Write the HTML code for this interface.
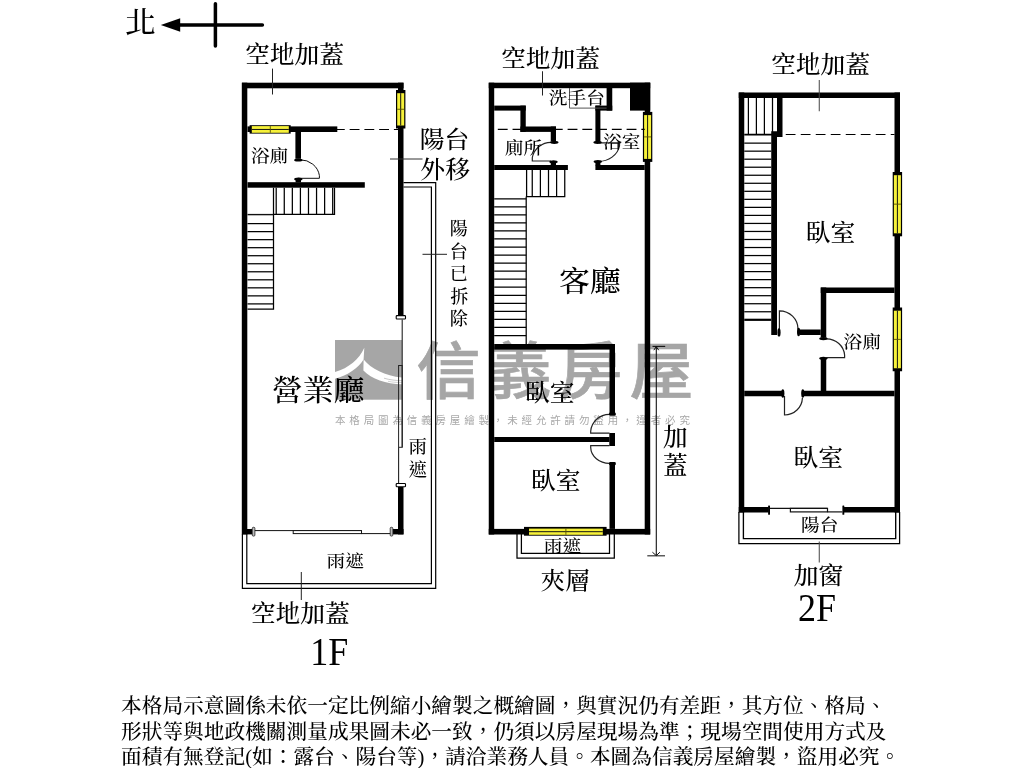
<!DOCTYPE html>
<html lang="zh-Hant"><head><meta charset="utf-8"><title>格局圖</title>
<style>
html,body{margin:0;padding:0;background:#fff;}
body{width:1024px;height:768px;overflow:hidden;font-family:'Liberation Serif','Noto Serif CJK TC','Noto Serif CJK SC',serif;}
svg{display:block;will-change:transform;}
text{white-space:pre;}
</style></head><body>
<svg width="1024" height="768" viewBox="0 0 1024 768" shape-rendering="auto">
<rect width="1024" height="768" fill="#fff"/>
<rect x="335.00" y="340.00" width="67.00" height="59.70" fill="#a6a6a6" />
<path d="M364.3,347.8 L363.6,359.5 C358,368 348,375.5 335,378.8 L335,372 C349,368 359,359.5 364.3,347.8 Z" stroke="none" stroke-width="0" fill="#fff" />
<path d="M363.6,359.5 C371,368.5 385,376 402,377.5 L402,384.3 C386,384 371.5,379 363.4,370.5 Z" stroke="none" stroke-width="0" fill="#fff" />
<path d="M384,378.2 C390,380 396,380.6 402,380.7" stroke="#a6a6a6" stroke-width="0.6" fill="none" />
<path d="M388,381.3 C393,382.3 397,382.5 402,382.6" stroke="#a6a6a6" stroke-width="0.5" fill="none" />
<g transform="translate(0,399.6) scale(1,0.975) translate(0,-400)"><text x="416.45" y="393.85" font-size="64.00" font-weight="500" fill="#a6a6a6" letter-spacing="7.0" stroke="#a6a6a6" stroke-width="0.7" style="font-family:'Liberation Sans','Noto Sans CJK TC','Noto Sans CJK SC',sans-serif">信義房屋</text></g>
<text x="335.00" y="423.75" font-size="10.50" font-weight="400" fill="#a8a8a8" letter-spacing="3.8500000000000005" style="font-family:'Liberation Sans','Noto Sans CJK TC','Noto Sans CJK SC',sans-serif">本格局圖為信義房屋繪製，未經允許請勿盜用，違者必究</text>
<line x1="176.00" y1="24.90" x2="262.40" y2="24.90" stroke="#000" stroke-width="3.5" stroke-linecap="round"/>
<line x1="215.40" y1="3.70" x2="215.40" y2="46.00" stroke="#000" stroke-width="3.5" stroke-linecap="round"/>
<polygon points="160.8,24.9 180.2,18.2 180.2,31.7" fill="#000"/>
<path d="M403.5,182.6 H435.7 V588.4 H242.4 V534" stroke="#000" stroke-width="1.2" fill="none" />
<path d="M403.5,187 H431.4 V583.6 H246.8 V534" stroke="#000" stroke-width="1.2" fill="none" />
<rect x="241.80" y="82.70" width="5.50" height="451.70" fill="#000" />
<rect x="242.00" y="82.70" width="161.50" height="5.60" fill="#000" />
<rect x="398.00" y="82.70" width="5.50" height="232.80" fill="#000" />
<rect x="398.00" y="487.00" width="5.50" height="47.40" fill="#000" />
<rect x="242.00" y="529.00" width="10.30" height="5.40" fill="#000" />
<rect x="392.80" y="529.00" width="10.70" height="5.40" fill="#000" />
<rect x="247.50" y="126.40" width="89.80" height="5.60" fill="#000" />
<rect x="295.40" y="132.00" width="5.60" height="26.80" fill="#000" />
<rect x="247.50" y="182.20" width="117.30" height="5.50" fill="#000" />
<rect x="295.60" y="180.00" width="5.40" height="2.50" fill="#000" />
<rect x="396.2" y="315.6" width="9.3" height="3.4" rx="0.8" fill="#fff" stroke="#000" stroke-width="1.1"/>
<rect x="396.2" y="483.5" width="9.3" height="3.2" rx="0.8" fill="#fff" stroke="#000" stroke-width="1.1"/>
<rect x="252.3" y="527.3" width="2.6" height="8.8" rx="1" fill="#bbb" stroke="#222" stroke-width="0.8"/>
<rect x="390.2" y="527.3" width="2.6" height="8.8" rx="1" fill="#bbb" stroke="#222" stroke-width="0.8"/>
<line x1="254.90" y1="530.60" x2="361.50" y2="530.60" stroke="#111" stroke-width="1" />
<rect x="293.2" y="530.6" width="68.3" height="3" fill="#fff" stroke="#111" stroke-width="1"/>
<line x1="361.50" y1="533.60" x2="390.20" y2="533.60" stroke="#111" stroke-width="1" />
<line x1="402.20" y1="319.40" x2="402.20" y2="447.30" stroke="#222" stroke-width="1.1" />
<rect x="398.6" y="365.5" width="3.6" height="81.8" fill="none" stroke="#222" stroke-width="1"/>
<line x1="398.60" y1="447.30" x2="398.60" y2="483.30" stroke="#222" stroke-width="1.1" />
<rect x="396.00" y="90.00" width="9.40" height="38.50" fill="#000" />
<rect x="397.20" y="93.20" width="7.00" height="32.30" fill="#f6f13a" />
<line x1="400.70" y1="93.20" x2="400.70" y2="125.50" stroke="#111" stroke-width="1.0" />
<line x1="397.20" y1="109.25" x2="404.20" y2="109.25" stroke="#5a5400" stroke-width="0.9" />
<rect x="249.60" y="125.20" width="41.10" height="8.40" fill="#000" />
<rect x="251.80" y="126.10" width="37.00" height="6.70" fill="#f6f13a" />
<line x1="251.80" y1="129.45" x2="288.80" y2="129.45" stroke="#111" stroke-width="1.0" />
<line x1="270.30" y1="126.10" x2="270.30" y2="132.80" stroke="#5a5400" stroke-width="0.9" />
<line x1="334.90" y1="129.50" x2="398.00" y2="129.50" stroke="#000" stroke-width="1.2" stroke-dasharray="9.85 4.9"/>
<path d="M300,159.8 A19.4,18.5 0 0 1 319.4,175.5 V178.3 H298.4" stroke="#111" stroke-width="1" fill="none" />
<ellipse cx="298.30" cy="160.00" rx="4.2" ry="1.6" fill="#000"/>
<ellipse cx="298.30" cy="179.00" rx="4.2" ry="1.6" fill="#000"/>
<path d="M273.5,187.7 V214.3 H334.5 V187.7" stroke="#000" stroke-width="1.25" fill="none" />
<line x1="276.20" y1="187.70" x2="276.20" y2="214.30" stroke="#000" stroke-width="1.25" />
<line x1="284.27" y1="187.70" x2="284.27" y2="214.30" stroke="#000" stroke-width="1.25" />
<line x1="292.34" y1="187.70" x2="292.34" y2="214.30" stroke="#000" stroke-width="1.25" />
<line x1="300.41" y1="187.70" x2="300.41" y2="214.30" stroke="#000" stroke-width="1.25" />
<line x1="308.48" y1="187.70" x2="308.48" y2="214.30" stroke="#000" stroke-width="1.25" />
<line x1="316.55" y1="187.70" x2="316.55" y2="214.30" stroke="#000" stroke-width="1.25" />
<line x1="324.62" y1="187.70" x2="324.62" y2="214.30" stroke="#000" stroke-width="1.25" />
<line x1="332.69" y1="187.70" x2="332.69" y2="214.30" stroke="#000" stroke-width="1.25" />
<path d="M273.5,214.3 V309.2 H247.5" stroke="#000" stroke-width="1.25" fill="none" />
<line x1="247.50" y1="214.60" x2="273.50" y2="214.60" stroke="#111" stroke-width="1.4" />
<line x1="247.50" y1="223.60" x2="273.50" y2="223.60" stroke="#000" stroke-width="1.25" />
<line x1="247.50" y1="231.63" x2="273.50" y2="231.63" stroke="#000" stroke-width="1.25" />
<line x1="247.50" y1="239.66" x2="273.50" y2="239.66" stroke="#000" stroke-width="1.25" />
<line x1="247.50" y1="247.69" x2="273.50" y2="247.69" stroke="#000" stroke-width="1.25" />
<line x1="247.50" y1="255.72" x2="273.50" y2="255.72" stroke="#000" stroke-width="1.25" />
<line x1="247.50" y1="263.75" x2="273.50" y2="263.75" stroke="#000" stroke-width="1.25" />
<line x1="247.50" y1="271.78" x2="273.50" y2="271.78" stroke="#000" stroke-width="1.25" />
<line x1="247.50" y1="279.81" x2="273.50" y2="279.81" stroke="#000" stroke-width="1.25" />
<line x1="247.50" y1="287.84" x2="273.50" y2="287.84" stroke="#000" stroke-width="1.25" />
<line x1="247.50" y1="295.87" x2="273.50" y2="295.87" stroke="#000" stroke-width="1.25" />
<line x1="247.50" y1="303.90" x2="273.50" y2="303.90" stroke="#000" stroke-width="1.25" />
<line x1="272.50" y1="68.60" x2="272.50" y2="94.50" stroke="#222" stroke-width="1" />
<line x1="390.00" y1="159.00" x2="422.50" y2="159.00" stroke="#333" stroke-width="1" />
<line x1="422.50" y1="254.30" x2="447.00" y2="254.30" stroke="#222" stroke-width="1" />
<line x1="301.30" y1="572.00" x2="301.30" y2="600.00" stroke="#222" stroke-width="1" />
<path d="M517,534 V558.1 H614.3 V534" stroke="#000" stroke-width="1.25" fill="none" />
<path d="M521.4,534 V553.3 H609.5 V534" stroke="#000" stroke-width="1.25" fill="none" />
<rect x="488.75" y="82.70" width="5.45" height="451.80" fill="#000" />
<rect x="488.75" y="82.70" width="161.45" height="5.50" fill="#000" />
<rect x="644.70" y="82.70" width="5.50" height="451.80" fill="#000" />
<rect x="630.00" y="82.70" width="20.20" height="27.90" fill="#000" />
<rect x="488.75" y="528.90" width="161.45" height="5.60" fill="#000" />
<rect x="494.20" y="105.60" width="31.55" height="5.00" fill="#000" />
<rect x="520.40" y="105.60" width="5.35" height="26.30" fill="#000" />
<rect x="520.40" y="126.50" width="35.60" height="5.40" fill="#000" />
<rect x="550.75" y="126.50" width="5.25" height="14.90" fill="#000" />
<rect x="494.20" y="165.00" width="73.70" height="5.00" fill="#000" />
<rect x="550.75" y="162.00" width="5.25" height="3.50" fill="#000" />
<rect x="595.40" y="162.00" width="5.00" height="3.50" fill="#000" />
<rect x="606.60" y="88.00" width="5.65" height="22.60" fill="#000" />
<rect x="595.40" y="105.60" width="16.85" height="5.00" fill="#000" />
<rect x="595.40" y="105.60" width="5.00" height="35.80" fill="#000" />
<rect x="595.40" y="165.00" width="49.30" height="5.00" fill="#000" />
<rect x="494.20" y="344.00" width="120.80" height="5.60" fill="#000" />
<rect x="609.50" y="344.00" width="5.50" height="69.75" fill="#000" />
<rect x="609.30" y="433.00" width="5.70" height="13.00" fill="#000" />
<rect x="609.50" y="463.75" width="5.50" height="65.15" fill="#000" />
<rect x="494.20" y="437.00" width="115.30" height="5.00" fill="#000" />
<path d="M569.5,88 V108.1 H606.6" stroke="#555" stroke-width="1" fill="none" />
<rect x="642.90" y="111.90" width="9.40" height="50.00" fill="#000" />
<rect x="644.10" y="115.10" width="7.00" height="43.80" fill="#f6f13a" />
<line x1="647.60" y1="115.10" x2="647.60" y2="158.90" stroke="#111" stroke-width="1.0" />
<line x1="644.10" y1="136.90" x2="651.10" y2="136.90" stroke="#5a5400" stroke-width="0.9" />
<rect x="524.00" y="526.90" width="82.60" height="8.80" fill="#000" />
<rect x="529.00" y="528.60" width="73.80" height="6.20" fill="#f6f13a" />
<line x1="529.00" y1="531.70" x2="602.80" y2="531.70" stroke="#111" stroke-width="1.0" />
<line x1="565.90" y1="528.60" x2="565.90" y2="534.80" stroke="#5a5400" stroke-width="0.9" />
<line x1="497.80" y1="129.30" x2="521.00" y2="129.30" stroke="#000" stroke-width="1.2" stroke-dasharray="9.85 4.9"/>
<line x1="552.85" y1="129.30" x2="644.70" y2="129.30" stroke="#000" stroke-width="1.2" stroke-dasharray="9.85 4.9"/>
<path d="M551.5,142.4 A19,18.6 0 0 0 532.3,157.5 V161 H551" stroke="#222" stroke-width="1.2" fill="none" />
<ellipse cx="554.30" cy="142.30" rx="4.2" ry="1.6" fill="#000"/>
<ellipse cx="553.50" cy="161.80" rx="4.2" ry="1.6" fill="#000"/>
<path d="M598,161.4 A21.5,18.5 0 0 0 619.5,146 V142.9 H599" stroke="#222" stroke-width="1.2" fill="none" />
<ellipse cx="597.60" cy="142.30" rx="4.2" ry="1.6" fill="#000"/>
<ellipse cx="597.80" cy="161.50" rx="4.2" ry="1.6" fill="#000"/>
<path d="M609.5,414.4 A18.8,18.2 0 0 0 590.7,431.3 V433.2 H609.5" stroke="#222" stroke-width="1.2" fill="none" />
<path d="M609.5,445.7 H590.7 V447.6 A18.8,16.2 0 0 0 609.5,463.4" stroke="#222" stroke-width="1.2" fill="none" />
<rect x="609" y="412.60" width="6.8" height="3.2" rx="1.2" fill="#000"/>
<rect x="609" y="462.00" width="6.8" height="3.2" rx="1.2" fill="#000"/>
<path d="M526.6,170 V196.5 H564.75 V170" stroke="#000" stroke-width="1.25" fill="none" />
<line x1="532.25" y1="170.00" x2="532.25" y2="196.50" stroke="#000" stroke-width="1.25" />
<line x1="540.40" y1="170.00" x2="540.40" y2="196.50" stroke="#000" stroke-width="1.25" />
<line x1="548.50" y1="170.00" x2="548.50" y2="196.50" stroke="#000" stroke-width="1.25" />
<line x1="556.60" y1="170.00" x2="556.60" y2="196.50" stroke="#000" stroke-width="1.25" />
<line x1="526.20" y1="196.50" x2="526.20" y2="344.00" stroke="#000" stroke-width="1.25" />
<line x1="494.20" y1="198.75" x2="526.20" y2="198.75" stroke="#000" stroke-width="1.25" />
<line x1="494.20" y1="206.79" x2="526.20" y2="206.79" stroke="#000" stroke-width="1.25" />
<line x1="494.20" y1="214.84" x2="526.20" y2="214.84" stroke="#000" stroke-width="1.25" />
<line x1="494.20" y1="222.88" x2="526.20" y2="222.88" stroke="#000" stroke-width="1.25" />
<line x1="494.20" y1="230.93" x2="526.20" y2="230.93" stroke="#000" stroke-width="1.25" />
<line x1="494.20" y1="238.97" x2="526.20" y2="238.97" stroke="#000" stroke-width="1.25" />
<line x1="494.20" y1="247.01" x2="526.20" y2="247.01" stroke="#000" stroke-width="1.25" />
<line x1="494.20" y1="255.06" x2="526.20" y2="255.06" stroke="#000" stroke-width="1.25" />
<line x1="494.20" y1="263.10" x2="526.20" y2="263.10" stroke="#000" stroke-width="1.25" />
<line x1="494.20" y1="271.15" x2="526.20" y2="271.15" stroke="#000" stroke-width="1.25" />
<line x1="494.20" y1="279.19" x2="526.20" y2="279.19" stroke="#000" stroke-width="1.25" />
<line x1="494.20" y1="287.23" x2="526.20" y2="287.23" stroke="#000" stroke-width="1.25" />
<line x1="494.20" y1="295.28" x2="526.20" y2="295.28" stroke="#000" stroke-width="1.25" />
<line x1="494.20" y1="303.32" x2="526.20" y2="303.32" stroke="#000" stroke-width="1.25" />
<line x1="494.20" y1="311.37" x2="526.20" y2="311.37" stroke="#000" stroke-width="1.25" />
<line x1="494.20" y1="319.41" x2="526.20" y2="319.41" stroke="#000" stroke-width="1.25" />
<line x1="494.20" y1="327.45" x2="526.20" y2="327.45" stroke="#000" stroke-width="1.25" />
<line x1="494.20" y1="335.50" x2="526.20" y2="335.50" stroke="#000" stroke-width="1.25" />
<line x1="656.30" y1="346.40" x2="656.30" y2="555.80" stroke="#111" stroke-width="1.1" />
<line x1="652.50" y1="346.40" x2="665.20" y2="346.40" stroke="#111" stroke-width="1.1" />
<line x1="647.30" y1="555.80" x2="665.00" y2="555.80" stroke="#333" stroke-width="1.2" />
<path d="M653.8,350.2 L656.25,346.6 L658.7,350.2" stroke="#111" stroke-width="1" fill="none" />
<path d="M652.4,552.2 L656.25,555.6 L659.9,552.2" stroke="#111" stroke-width="1" fill="none" />
<line x1="542.50" y1="71.25" x2="542.50" y2="95.50" stroke="#222" stroke-width="1" />
<path d="M738.9,512 V543.6 H899.6 V512" stroke="#000" stroke-width="1.25" fill="none" />
<path d="M743.4,512 V538.6 H895.7 V512" stroke="#000" stroke-width="1.35" fill="none" />
<rect x="738.75" y="92.50" width="5.50" height="420.00" fill="#000" />
<rect x="738.75" y="92.50" width="161.25" height="5.50" fill="#000" />
<rect x="894.50" y="92.50" width="5.50" height="420.00" fill="#000" />
<rect x="777.00" y="98.00" width="5.50" height="39.00" fill="#000" />
<rect x="771.25" y="131.25" width="5.75" height="203.75" fill="#000" />
<rect x="820.75" y="287.50" width="73.75" height="5.50" fill="#000" />
<rect x="820.75" y="287.50" width="5.50" height="50.20" fill="#000" />
<rect x="820.75" y="358.60" width="5.50" height="32.40" fill="#000" />
<rect x="800.00" y="329.50" width="20.75" height="5.50" fill="#000" />
<rect x="744.25" y="390.75" width="37.75" height="5.50" fill="#000" />
<rect x="803.75" y="390.75" width="90.75" height="5.50" fill="#000" />
<rect x="738.75" y="507.00" width="30.00" height="5.50" fill="#000" />
<rect x="843.75" y="507.00" width="56.25" height="5.50" fill="#000" />
<rect x="768.1" y="505.5" width="1.9" height="9.3" rx="0.6" fill="#000"/>
<rect x="842.4" y="505.5" width="1.9" height="9.3" rx="0.6" fill="#000"/>
<line x1="770.00" y1="508.40" x2="827.50" y2="508.40" stroke="#111" stroke-width="1.2" />
<rect x="790.4" y="508.4" width="37.1" height="3.5" fill="#fff" stroke="#111" stroke-width="1.2"/>
<line x1="827.50" y1="511.90" x2="842.40" y2="511.90" stroke="#111" stroke-width="1.2" />
<rect x="892.70" y="172.00" width="9.40" height="64.30" fill="#000" />
<rect x="893.90" y="175.20" width="7.00" height="58.10" fill="#f6f13a" />
<line x1="897.40" y1="175.20" x2="897.40" y2="233.30" stroke="#111" stroke-width="1.0" />
<line x1="893.90" y1="204.15" x2="900.90" y2="204.15" stroke="#5a5400" stroke-width="0.9" />
<rect x="892.70" y="307.50" width="9.40" height="63.75" fill="#000" />
<rect x="893.90" y="310.70" width="7.00" height="57.55" fill="#f6f13a" />
<line x1="897.40" y1="310.70" x2="897.40" y2="368.25" stroke="#111" stroke-width="1.0" />
<line x1="893.90" y1="339.38" x2="900.90" y2="339.38" stroke="#5a5400" stroke-width="0.9" />
<line x1="785.75" y1="134.50" x2="894.50" y2="134.50" stroke="#000" stroke-width="1.2" stroke-dasharray="9.75 5.25"/>
<line x1="748.40" y1="98.00" x2="748.40" y2="134.40" stroke="#000" stroke-width="1.25" />
<line x1="756.40" y1="98.00" x2="756.40" y2="134.40" stroke="#000" stroke-width="1.25" />
<line x1="764.40" y1="98.00" x2="764.40" y2="134.40" stroke="#000" stroke-width="1.25" />
<line x1="772.50" y1="98.00" x2="772.50" y2="134.40" stroke="#000" stroke-width="1.25" />
<line x1="744.25" y1="134.70" x2="777.00" y2="134.70" stroke="#000" stroke-width="1.8" />
<line x1="744.25" y1="143.13" x2="771.25" y2="143.13" stroke="#000" stroke-width="1.25" />
<line x1="744.25" y1="151.16" x2="771.25" y2="151.16" stroke="#000" stroke-width="1.25" />
<line x1="744.25" y1="159.19" x2="771.25" y2="159.19" stroke="#000" stroke-width="1.25" />
<line x1="744.25" y1="167.22" x2="771.25" y2="167.22" stroke="#000" stroke-width="1.25" />
<line x1="744.25" y1="175.25" x2="771.25" y2="175.25" stroke="#000" stroke-width="1.25" />
<line x1="744.25" y1="183.28" x2="771.25" y2="183.28" stroke="#000" stroke-width="1.25" />
<line x1="744.25" y1="191.31" x2="771.25" y2="191.31" stroke="#000" stroke-width="1.25" />
<line x1="744.25" y1="199.34" x2="771.25" y2="199.34" stroke="#000" stroke-width="1.25" />
<line x1="744.25" y1="207.37" x2="771.25" y2="207.37" stroke="#000" stroke-width="1.25" />
<line x1="744.25" y1="215.40" x2="771.25" y2="215.40" stroke="#000" stroke-width="1.25" />
<line x1="744.25" y1="223.43" x2="771.25" y2="223.43" stroke="#000" stroke-width="1.25" />
<line x1="744.25" y1="231.46" x2="771.25" y2="231.46" stroke="#000" stroke-width="1.25" />
<line x1="744.25" y1="239.49" x2="771.25" y2="239.49" stroke="#000" stroke-width="1.25" />
<line x1="744.25" y1="247.52" x2="771.25" y2="247.52" stroke="#000" stroke-width="1.25" />
<line x1="744.25" y1="255.55" x2="771.25" y2="255.55" stroke="#000" stroke-width="1.25" />
<line x1="744.25" y1="263.58" x2="771.25" y2="263.58" stroke="#000" stroke-width="1.25" />
<line x1="744.25" y1="271.61" x2="771.25" y2="271.61" stroke="#000" stroke-width="1.25" />
<line x1="744.25" y1="279.64" x2="771.25" y2="279.64" stroke="#000" stroke-width="1.25" />
<line x1="744.25" y1="287.67" x2="771.25" y2="287.67" stroke="#000" stroke-width="1.25" />
<line x1="744.25" y1="295.70" x2="771.25" y2="295.70" stroke="#000" stroke-width="1.25" />
<line x1="744.25" y1="303.73" x2="771.25" y2="303.73" stroke="#000" stroke-width="1.25" />
<line x1="744.25" y1="311.76" x2="771.25" y2="311.76" stroke="#000" stroke-width="1.25" />
<line x1="744.25" y1="319.80" x2="771.25" y2="319.80" stroke="#000" stroke-width="2.2" />
<path d="M779.4,331 V310.8 A18.6,18.2 0 0 1 798,329" stroke="#222" stroke-width="1.2" fill="none" />
<ellipse cx="779.00" cy="332.40" rx="1.6" ry="4.2" fill="#000"/>
<ellipse cx="798.60" cy="332.00" rx="1.6" ry="4.2" fill="#000"/>
<path d="M826.5,338.8 A18.2,17.6 0 0 1 844.6,355 V357.6 H826.3" stroke="#222" stroke-width="1.2" fill="none" />
<ellipse cx="823.40" cy="338.60" rx="4.2" ry="1.6" fill="#000"/>
<ellipse cx="823.40" cy="358.30" rx="4.2" ry="1.6" fill="#000"/>
<path d="M784.5,396 V415 A18,17.5 0 0 0 802.4,398" stroke="#222" stroke-width="1.2" fill="none" />
<ellipse cx="782.80" cy="393.50" rx="1.6" ry="4.2" fill="#000"/>
<ellipse cx="802.80" cy="393.50" rx="1.6" ry="4.2" fill="#000"/>
<line x1="819.25" y1="80.00" x2="819.25" y2="111.25" stroke="#444" stroke-width="1" />
<line x1="819.25" y1="541.50" x2="819.25" y2="562.50" stroke="#444" stroke-width="1" />
<g transform="translate(0,23.00) scale(1,0.940) translate(0,-23.00)"><text x="124.85" y="34.00" font-size="31.00" font-weight="500" fill="#000" style="font-family:'Liberation Serif','Noto Serif CJK TC','Noto Serif CJK SC',serif">北</text></g>
<g transform="translate(0,53.35) scale(1,0.945) translate(0,-53.35)"><text x="245.00" y="63.35" font-size="24.80" font-weight="500" fill="#000" style="font-family:'Liberation Serif','Noto Serif CJK TC','Noto Serif CJK SC',serif">空地加蓋</text></g>
<g transform="translate(0,155.62) scale(1,0.920) translate(0,-155.62)"><text x="251.00" y="162.62" font-size="18.65" font-weight="500" fill="#000" style="font-family:'Liberation Serif','Noto Serif CJK TC','Noto Serif CJK SC',serif">浴廁</text></g>
<g transform="translate(0,139.25) scale(1,0.945) translate(0,-139.25)"><text x="419.75" y="148.75" font-size="24.80" font-weight="500" fill="#000" style="font-family:'Liberation Serif','Noto Serif CJK TC','Noto Serif CJK SC',serif">陽台</text></g>
<g transform="translate(0,169.25) scale(1,0.945) translate(0,-169.25)"><text x="420.38" y="178.75" font-size="24.80" font-weight="500" fill="#000" style="font-family:'Liberation Serif','Noto Serif CJK TC','Noto Serif CJK SC',serif">外移</text></g>
<g transform="translate(0,390.62) scale(1,0.940) translate(0,-390.62)"><text x="271.75" y="402.12" font-size="31.00" font-weight="500" fill="#000" style="font-family:'Liberation Serif','Noto Serif CJK TC','Noto Serif CJK SC',serif">營業廳</text></g>
<g transform="translate(0,560.62) scale(1,0.920) translate(0,-560.62)"><text x="326.62" y="567.62" font-size="18.65" font-weight="500" fill="#000" style="font-family:'Liberation Serif','Noto Serif CJK TC','Noto Serif CJK SC',serif">雨遮</text></g>
<g transform="translate(0,612.50) scale(1,0.945) translate(0,-612.50)"><text x="250.75" y="622.50" font-size="24.80" font-weight="500" fill="#000" style="font-family:'Liberation Serif','Noto Serif CJK TC','Noto Serif CJK SC',serif">空地加蓋</text></g>
<g transform="translate(0,652.00) scale(1,1.120) translate(0,-652.00)"><text x="310.38" y="664.00" font-size="36.00" font-weight="500" fill="#000" style="font-family:'Liberation Serif','Noto Serif CJK TC','Noto Serif CJK SC',serif">1F</text></g>
<g transform="translate(0,57.50) scale(1,0.945) translate(0,-57.50)"><text x="501.00" y="67.50" font-size="24.80" font-weight="500" fill="#000" style="font-family:'Liberation Serif','Noto Serif CJK TC','Noto Serif CJK SC',serif">空地加蓋</text></g>
<g transform="translate(0,97.20) scale(1,0.920) translate(0,-97.20)"><text x="548.88" y="104.20" font-size="18.65" font-weight="500" fill="#000" style="font-family:'Liberation Serif','Noto Serif CJK TC','Noto Serif CJK SC',serif">洗手台</text></g>
<g transform="translate(0,147.12) scale(1,0.920) translate(0,-147.12)"><text x="504.80" y="154.12" font-size="18.65" font-weight="500" fill="#000" style="font-family:'Liberation Serif','Noto Serif CJK TC','Noto Serif CJK SC',serif">廁所</text></g>
<g transform="translate(0,141.25) scale(1,0.920) translate(0,-141.25)"><text x="603.20" y="148.25" font-size="18.65" font-weight="500" fill="#000" style="font-family:'Liberation Serif','Noto Serif CJK TC','Noto Serif CJK SC',serif">浴室</text></g>
<g transform="translate(0,280.38) scale(1,0.940) translate(0,-280.38)"><text x="559.00" y="292.38" font-size="31.00" font-weight="500" fill="#000" style="font-family:'Liberation Serif','Noto Serif CJK TC','Noto Serif CJK SC',serif">客廳</text></g>
<g transform="translate(0,392.12) scale(1,0.945) translate(0,-392.12)"><text x="525.00" y="401.62" font-size="24.80" font-weight="500" fill="#000" style="font-family:'Liberation Serif','Noto Serif CJK TC','Noto Serif CJK SC',serif">臥室</text></g>
<g transform="translate(0,480.00) scale(1,0.945) translate(0,-480.00)"><text x="531.00" y="489.50" font-size="24.80" font-weight="500" fill="#000" style="font-family:'Liberation Serif','Noto Serif CJK TC','Noto Serif CJK SC',serif">臥室</text></g>
<g transform="translate(0,545.62) scale(1,0.920) translate(0,-545.62)"><text x="543.88" y="552.62" font-size="18.65" font-weight="500" fill="#000" style="font-family:'Liberation Serif','Noto Serif CJK TC','Noto Serif CJK SC',serif">雨遮</text></g>
<g transform="translate(0,580.00) scale(1,0.945) translate(0,-580.00)"><text x="540.50" y="589.00" font-size="24.80" font-weight="500" fill="#000" style="font-family:'Liberation Serif','Noto Serif CJK TC','Noto Serif CJK SC',serif">夾層</text></g>
<g transform="translate(0,64.00) scale(1,0.945) translate(0,-64.00)"><text x="771.00" y="74.00" font-size="24.80" font-weight="500" fill="#000" style="font-family:'Liberation Serif','Noto Serif CJK TC','Noto Serif CJK SC',serif">空地加蓋</text></g>
<g transform="translate(0,231.88) scale(1,0.945) translate(0,-231.88)"><text x="805.75" y="241.38" font-size="24.80" font-weight="500" fill="#000" style="font-family:'Liberation Serif','Noto Serif CJK TC','Noto Serif CJK SC',serif">臥室</text></g>
<g transform="translate(0,341.88) scale(1,0.920) translate(0,-341.88)"><text x="843.50" y="348.88" font-size="18.65" font-weight="500" fill="#000" style="font-family:'Liberation Serif','Noto Serif CJK TC','Noto Serif CJK SC',serif">浴廁</text></g>
<g transform="translate(0,457.12) scale(1,0.945) translate(0,-457.12)"><text x="793.50" y="466.62" font-size="24.80" font-weight="500" fill="#000" style="font-family:'Liberation Serif','Noto Serif CJK TC','Noto Serif CJK SC',serif">臥室</text></g>
<g transform="translate(0,525.00) scale(1,0.920) translate(0,-525.00)"><text x="801.00" y="532.00" font-size="18.65" font-weight="500" fill="#000" style="font-family:'Liberation Serif','Noto Serif CJK TC','Noto Serif CJK SC',serif">陽台</text></g>
<g transform="translate(0,575.00) scale(1,0.945) translate(0,-575.00)"><text x="793.75" y="584.50" font-size="24.80" font-weight="500" fill="#000" style="font-family:'Liberation Serif','Noto Serif CJK TC','Noto Serif CJK SC',serif">加窗</text></g>
<g transform="translate(0,607.12) scale(1,1.120) translate(0,-607.12)"><text x="798.12" y="619.12" font-size="36.00" font-weight="500" fill="#000" style="font-family:'Liberation Serif','Noto Serif CJK TC','Noto Serif CJK SC',serif">2F</text></g>
<text font-size="18" font-weight="500" fill="#000" style="font-family:'Liberation Serif','Noto Serif CJK TC','Noto Serif CJK SC',serif"><tspan x="449.70" y="235.10">陽</tspan><tspan x="449.70" y="258.00">台</tspan><tspan x="449.70" y="280.00">已</tspan><tspan x="450.20" y="302.50">拆</tspan><tspan x="449.70" y="324.90">除</tspan></text>
<text font-size="18.4" font-weight="500" fill="#000" style="font-family:'Liberation Serif','Noto Serif CJK TC','Noto Serif CJK SC',serif"><tspan x="408.50" y="453.20">雨</tspan><tspan x="408.50" y="476.20">遮</tspan></text>
<text font-size="24.6" font-weight="500" fill="#000" style="font-family:'Liberation Serif','Noto Serif CJK TC','Noto Serif CJK SC',serif"><tspan x="663.10" y="445.50">加</tspan><tspan x="663.10" y="474.10">蓋</tspan></text>
<text x="121.00" y="713.30" font-size="20.70" font-weight="500" fill="#000" style="font-family:'Liberation Serif','Noto Serif CJK TC','Noto Serif CJK SC',serif">本格局示意圖係未依一定比例縮小繪製之概繪圖，與實況仍有差距，其方位、格局、</text>
<text x="121.00" y="738.60" font-size="20.70" font-weight="500" fill="#000" style="font-family:'Liberation Serif','Noto Serif CJK TC','Noto Serif CJK SC',serif">形狀等與地政機關測量成果圖未必一致，仍須以房屋現場為準；現場空間使用方式及</text>
<text x="121.00" y="763.90" font-size="20.70" font-weight="500" fill="#000" style="font-family:'Liberation Serif','Noto Serif CJK TC','Noto Serif CJK SC',serif">面積有無登記(如：露台、陽台等)，請洽業務人員。本圖為信義房屋繪製，盜用必究。</text>
</svg>
</body></html>
